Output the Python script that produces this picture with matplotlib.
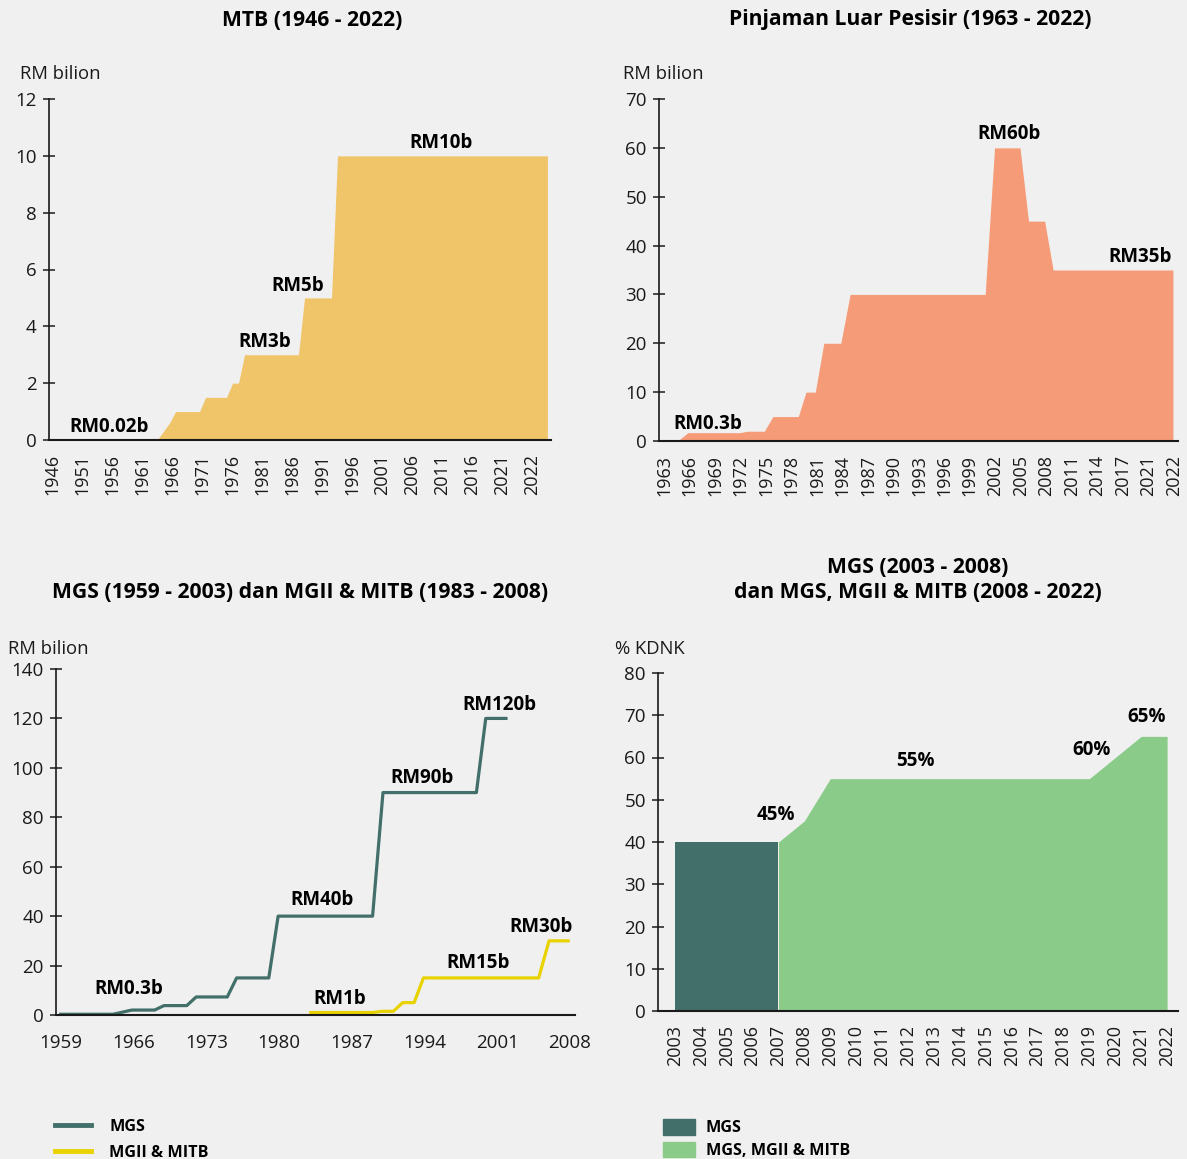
import matplotlib.pyplot as plt
from matplotlib.lines import Line2D
from matplotlib.patches import Patch
from matplotlib.transforms import offset_copy

plt.rcParams['font.family'] = ['Open Sans', 'DejaVu Sans']

BG = '#f0f0f0'
INK = '#1a1a1a'

# --- MTB (1946 - 2022), x in chart position units (5 per label step)
mtb_x = [1945.5, 1963.5, 1965.5, 1966.5, 1970.5, 1971.5, 1975, 1976, 1977, 1978,
         1987, 1988, 1992.5, 1993.5, 2028.5]
mtb_y = [0.02, 0.02, 0.6, 1, 1, 1.5, 1.5, 2, 2, 3, 3, 5, 5, 10, 10]
mtb_labels = ['1946', '1951', '1956', '1961', '1966', '1971', '1976', '1981', '1986',
              '1991', '1996', '2001', '2006', '2011', '2016', '2021', '2022']

# --- Pinjaman Luar Pesisir (1963 - 2022), 3 per label step
plp_x = [1962.5, 1964.8, 1965.8, 1971.9, 1972.8, 1974.8, 1975.8, 1978.8, 1979.7, 1980.8,
         1981.8, 1983.8, 1984.9, 2000.8, 2001.9, 2004.9, 2005.9, 2007.8, 2008.8, 2022.9]
plp_y = [0.3, 0.3, 1.7, 1.7, 2, 2, 5, 5, 10, 10, 20, 20, 30, 30, 60, 60, 45, 45, 35, 35]
plp_labels = ['1963', '1966', '1969', '1972', '1975', '1978', '1981', '1984', '1987', '1990',
              '1993', '1996', '1999', '2002', '2005', '2008', '2011', '2014', '2017', '2021', '2022']

# --- MGS (1959 - 2003) dan MGII & MITB (1983 - 2008)
mgs_x = [1958.8, 1964.0, 1965.8, 1968.0, 1968.9, 1971.1, 1972.0, 1975.0, 1975.9, 1979.0,
         1979.9, 1989.0, 1990.0, 1999.0, 1999.9, 2002.0]
mgs_y = [0.3, 0.3, 2, 2, 3.8, 3.8, 7.3, 7.3, 15, 15, 40, 40, 90, 90, 120, 120]
mgii_x = [1982.9, 1989.0, 1989.9, 1991.0, 1991.9, 1993.0, 1993.9, 2005.0, 2006.0, 2008.0]
mgii_y = [1, 1, 1.5, 1.5, 5, 5, 15, 15, 30, 30]
line_ticks = [1959, 1966, 1973, 1980, 1987, 1994, 2001, 2008]

# --- % KDNK
kd_mgs_years = [2003, 2004, 2005, 2006, 2007]
kd_mgs = [40, 40, 40, 40, 40]
kd_all_years = [2007, 2008, 2009, 2010, 2011, 2012, 2013, 2014, 2015, 2016, 2017, 2018,
                2019, 2020, 2021, 2022]
kd_all = [40, 45, 55, 55, 55, 55, 55, 55, 55, 55, 55, 55, 55, 60, 65, 65]
kd_years = list(range(2003, 2023))

C_MTB = '#f0c56a'
C_PLP = '#f69b77'
C_DARK = '#426f69'
C_LIGHT = '#8bcb8a'
C_YEL = '#e8d200'

W, H = 1187, 1159
fig = plt.figure(figsize=(W / 100, H / 100), dpi=100, facecolor=BG)


def box(l, r, t, b):
    return [l / W, 1 - b / H, (r - l) / W, (b - t) / H]


def style(ax):
    ax.set_facecolor(BG)
    for s in ['top', 'right']:
        ax.spines[s].set_visible(False)
    ax.spines['left'].set_linewidth(1.2)
    ax.spines['bottom'].set_linewidth(1.5)
    ax.spines['left'].set_color(INK)
    ax.spines['bottom'].set_color(INK)
    ax.tick_params(axis='y', direction='inout', length=9, width=1.1, pad=4.3,
                   labelsize=13.5, colors=INK)
    ax.tick_params(axis='x', length=0, labelsize=13, colors=INK)


def lab(ax, x, y, s):
    tr = offset_copy(ax.transData, fig=fig, x=0, y=-2, units='dots')
    ax.text(x, y, s, ha='center', va='center', fontsize=13.5, fontweight='bold',
            color='black', transform=tr)


# Top-left
ax1 = fig.add_axes(box(49, 551, 99, 440))
style(ax1)
ax1.fill_between(mtb_x, mtb_y, color=C_MTB, lw=0)
ax1.set_xlim(1945.4, 2029.1)
ax1.set_ylim(0, 12)
ax1.set_yticks(range(0, 13, 2))
ax1.set_xticks([1946 + 5 * i for i in range(len(mtb_labels))])
ax1.set_xticklabels(mtb_labels, rotation=90)
ax1.tick_params(axis='x', pad=10)
lab(ax1, 1955.4, 0.53, 'RM0.02b')
lab(ax1, 1981.4, 3.52, 'RM3b')
lab(ax1, 1986.9, 5.49, 'RM5b')
lab(ax1, 2010.7, 10.52, 'RM10b')

# Top-right
ax2 = fig.add_axes(box(659, 1178, 99, 441))
style(ax2)
ax2.fill_between(plp_x, plp_y, color=C_PLP, lw=0)
ax2.set_xlim(1962.4, 2023.5)
ax2.set_ylim(0, 70)
ax2.set_yticks(range(0, 71, 10))
ax2.set_xticks([1963 + 3 * i for i in range(len(plp_labels))])
ax2.set_xticklabels(plp_labels, rotation=90)
ax2.tick_params(axis='x', pad=10)
lab(ax2, 1968.2, 3.9, 'RM0.3b')
lab(ax2, 2003.6, 63.2, 'RM60b')
lab(ax2, 2019.0, 38.1, 'RM35b')

# Bottom-left
ax3 = fig.add_axes(box(56, 575, 669, 1015))
style(ax3)
ax3.plot(mgs_x, mgs_y, color=C_DARK, lw=2.3, solid_capstyle='butt')
ax3.plot(mgii_x, mgii_y, color=C_YEL, lw=2.3, solid_capstyle='butt')
ax3.set_xlim(1958.5, 2008.5)
ax3.set_ylim(0, 140)
ax3.set_yticks(range(0, 141, 20))
ax3.set_xticks(line_ticks)
ax3.tick_params(axis='x', pad=14, labelsize=13.5)
lab(ax3, 1965.5, 11.3, 'RM0.3b')
lab(ax3, 1985.8, 7.3, 'RM1b')
lab(ax3, 1999.2, 21.9, 'RM15b')
lab(ax3, 2005.2, 36.4, 'RM30b')
lab(ax3, 1984.1, 47.3, 'RM40b')
lab(ax3, 1993.8, 96.7, 'RM90b')
lab(ax3, 2001.2, 126.3, 'RM120b')

# Bottom-right
ax4 = fig.add_axes(box(658, 1178, 673, 1011))
style(ax4)
ax4.fill_between(kd_mgs_years, kd_mgs, color=C_DARK, lw=0)
ax4.fill_between(kd_all_years, kd_all, color=C_LIGHT, lw=0)
ax4.set_xlim(2002.35, 2022.42)
ax4.set_ylim(0, 80)
ax4.set_yticks(range(0, 81, 10))
ax4.set_xticks(kd_years)
ax4.set_xticklabels([str(y) for y in kd_years], rotation=90)
ax4.tick_params(axis='x', pad=10)
lab(ax4, 2006.9, 46.9, '45%')
lab(ax4, 2012.3, 59.7, '55%')
lab(ax4, 2019.1, 62.3, '60%')
lab(ax4, 2021.2, 70.1, '65%')

# Titles and unit labels
tkw = dict(ha='center', va='center', fontsize=15.2, fontweight='bold', color='black')
fig.text(312 / W, 1 - 20 / H, 'MTB (1946 - 2022)', **tkw)
fig.text(910 / W, 1 - 20 / H, 'Pinjaman Luar Pesisir (1963 - 2022)', **tkw)
fig.text(300 / W, 1 - 592 / H, 'MGS (1959 - 2003) dan MGII & MITB (1983 - 2008)', **tkw)
fig.text(918 / W, 1 - 567 / H, 'MGS (2003 - 2008)', **tkw)
fig.text(918 / W, 1 - 592 / H, 'dan MGS, MGII & MITB (2008 - 2022)', **tkw)

ukw = dict(ha='left', va='center', fontsize=13.3, color=INK)
fig.text(20 / W, 1 - 74 / H, 'RM bilion', **ukw)
fig.text(623 / W, 1 - 74 / H, 'RM bilion', **ukw)
fig.text(8 / W, 1 - 649 / H, 'RM bilion', **ukw)
fig.text(615 / W, 1 - 649 / H, '% KDNK', **ukw)

# Legends
line_handles = [Line2D([], [], color=C_DARK, lw=3.5), Line2D([], [], color=C_YEL, lw=3.5)]
fig.legend(line_handles, ['MGS', 'MGII & MITB'], loc='upper left',
           bbox_to_anchor=(47 / W, 1 - 1111 / H), frameon=False, borderpad=0,
           handlelength=2.2, handletextpad=1.15, labelspacing=0.6,
           prop={'weight': 'bold', 'size': 11.6})
patch_handles = [Patch(color=C_DARK), Patch(color=C_LIGHT)]
fig.legend(patch_handles, ['MGS', 'MGS, MGII & MITB'], loc='upper left',
           bbox_to_anchor=(655 / W, 1 - 1111 / H), frameon=False, borderpad=0,
           handlelength=2.0, handleheight=1.1, handletextpad=0.65, labelspacing=0.35,
           prop={'weight': 'bold', 'size': 11.6})

fig.savefig('out.png', dpi=100, facecolor=BG)
